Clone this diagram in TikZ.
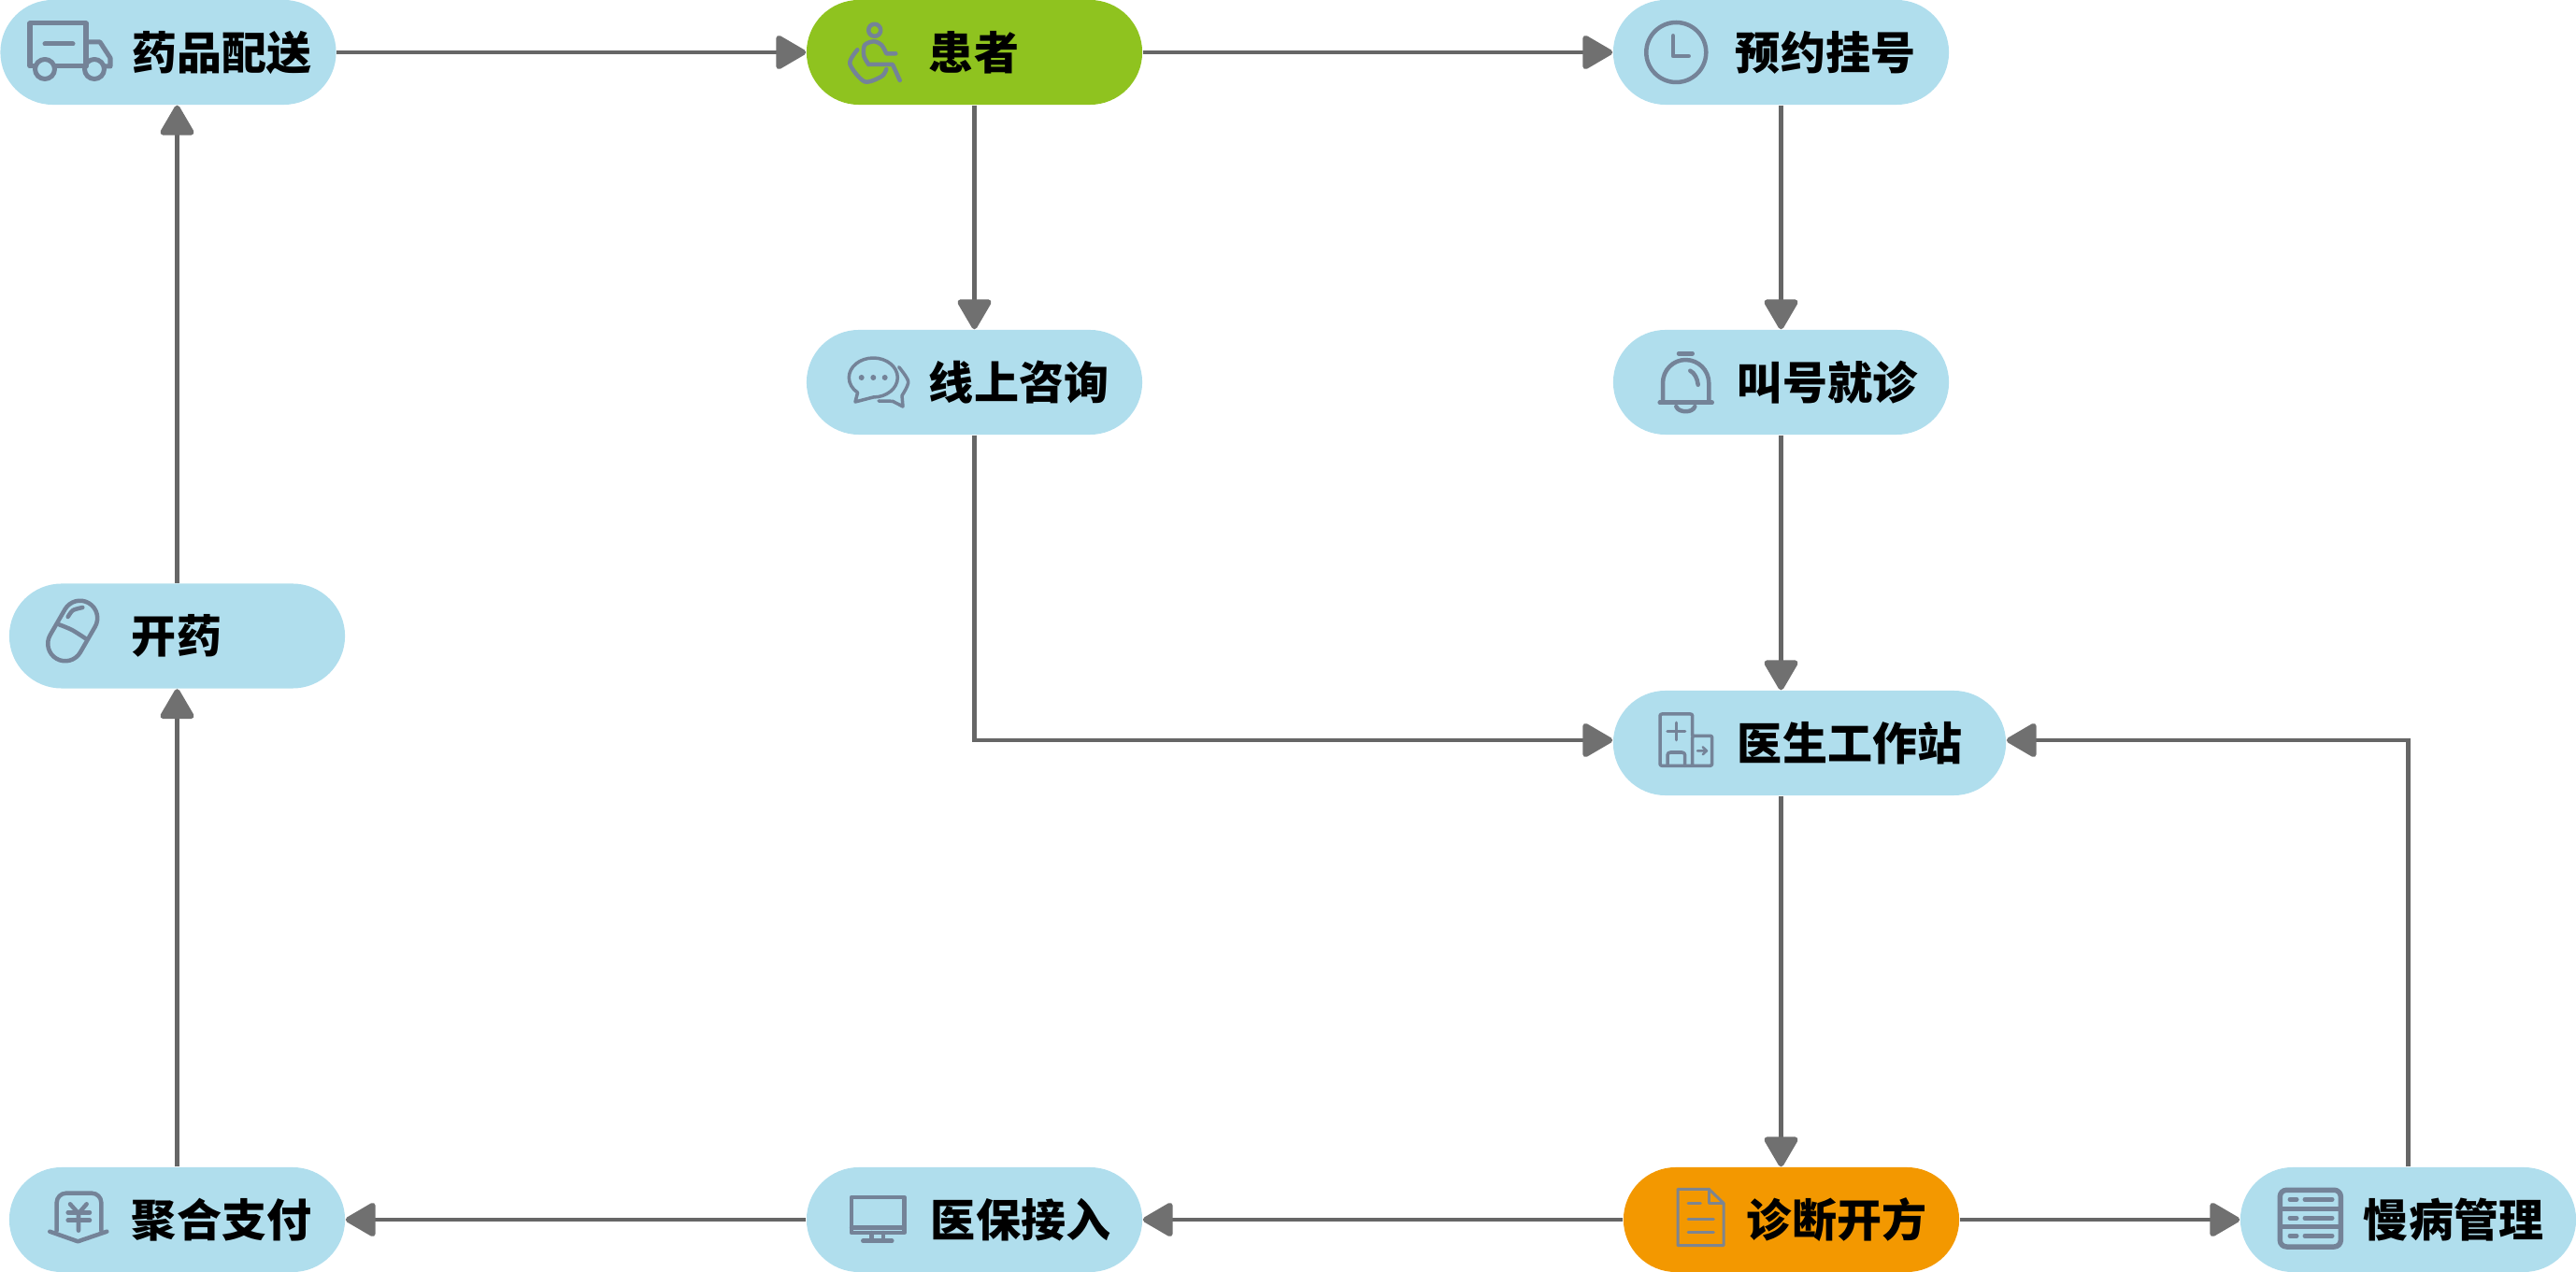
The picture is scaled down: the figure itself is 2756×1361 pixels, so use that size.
\documentclass[tikz,border=0pt]{standalone}
\usepackage{fontspec}
\usetikzlibrary{arrows.meta}
\newfontfamily\cjk{Noto Sans CJK SC}[BoldFont={Noto Sans CJK SC Black}]
\definecolor{pillblue}{HTML}{B0DEED}
\definecolor{pillgreen}{HTML}{8FC31F}
\definecolor{pillorange}{HTML}{F39800}
\definecolor{linegrey}{HTML}{666666}
\definecolor{tipgrey}{HTML}{707070}
\definecolor{iconblue}{HTML}{748398}
\definecolor{docgrey}{HTML}{7D8590}
\tikzset{
  flowpill/.style={rectangle,fill=pillblue,rounded corners=0.56cm,minimum height=1.12cm,text width=3.59cm,
    inner sep=0pt,align=left,text=black,font=\cjk\bfseries\fontsize{13.66pt}{16pt}\selectfont,
    execute at begin node={\hspace*{#1}}},
  flowline/.style={draw=linegrey,line width=0.042cm,-{Triangle[round,length=0.35cm,width=0.39cm,line width=0.06cm,color=tipgrey,fill=tipgrey]}},
  icon/.style={draw=iconblue,line width=0.045cm,line cap=round,line join=round},
}
\begin{document}
\begin{tikzpicture}[x=0.01cm,y=-0.01cm]
\useasboundingbox (0,0) rectangle (2756,1361);
\node[flowpill=1.41cm] (yaopin) at (180,56) {药品配送};
\node[flowpill=1.31cm,fill=pillgreen] (huanzhe) at (1042.5,56) {患者};
\node[flowpill=1.31cm] (yuyue) at (1905.5,56) {预约挂号};
\node[flowpill=1.31cm] (xianshang) at (1042.5,409) {线上咨询};
\node[flowpill=1.33cm] (jiaohao) at (1905.5,409) {叫号就诊};
\node[flowpill=1.31cm] (kaiyao) at (189.5,680.5) {开药};
\node[flowpill=1.33cm,text width=4.2cm] (yisheng) at (1936,795) {医生工作站};
\node[flowpill=1.31cm] (juhe) at (189.5,1305) {聚合支付};
\node[flowpill=1.33cm] (yibao) at (1042.5,1305) {医保接入};
\node[flowpill=1.32cm,fill=pillorange] (zhenduan) at (1916.5,1305) {诊断开方};
\node[flowpill=1.32cm] (manbing) at (2576.5,1305) {慢病管理};

\draw[flowline] (yaopin.east) -- (huanzhe.west);
\draw[flowline] (huanzhe.east) -- (yuyue.west);
\draw[flowline] (huanzhe.south) -- (xianshang.north);
\draw[flowline] (yuyue.south) -- (jiaohao.north);
\draw[flowline] (jiaohao.south) -- (jiaohao.south |- yisheng.north);
\draw[flowline] (xianshang.south) |- ([yshift=0.03cm]yisheng.west);
\draw[flowline] (manbing.north) |- ([yshift=0.03cm]yisheng.east);
\draw[flowline] (jiaohao.south |- yisheng.south) -- (jiaohao.south |- zhenduan.north);
\draw[flowline] (zhenduan.west) -- (yibao.east);
\draw[flowline] (zhenduan.east) -- (manbing.west);
\draw[flowline] (yibao.west) -- (juhe.east);
\draw[flowline] (juhe.north) -- (kaiyao.south);
\draw[flowline] (kaiyao.north) -- (kaiyao.north |- yaopin.south);

% truck
\draw[icon,line width=0.05cm] (37,71) -- (32,71) -- (32,25) -- (92,25) -- (92,71) (60,71) -- (89,71);
\draw[icon,line width=0.05cm] (92,45) -- (107,45) -- (118,62) -- (118,71) -- (112,71);
\draw[icon,line width=0.05cm] (48,47) -- (78,47);
\draw[icon,line width=0.05cm] (48,74) circle [radius=10.5] (101,74) circle [radius=10.5];
% wheelchair
\draw[icon] (935.7,32.3) circle [radius=6.5];
\draw[icon] plot[smooth] coordinates {(929.3,69) (924.3,60) (925,48.3) (935,44.3) (943.3,48.3) (948.3,57.3)} -- (958.3,57.3);
\draw[icon] (929.3,69) -- (955,69) -- (962.7,86);
\draw[icon] plot[smooth] coordinates {(917.3,53.3) (909.3,68.3) (925,87.3) (943.3,81.7) (948.3,74)};
% clock
\draw[icon] (1793.3,56) circle [radius=32];
\draw[icon] (1790,38.3) -- (1790,60) -- (1806.7,60);
% chat
\draw[icon,line width=0.035cm] (934.3,425) arc [start angle=90,end angle=-230,x radius=26,y radius=21] -- (915,430) -- (934.3,425);
\fill[iconblue] (921.7,404) circle [radius=3] (934.3,404) circle [radius=3] (946.7,404) circle [radius=3];
\draw[icon,line width=0.035cm] plot[smooth] coordinates {(961.7,392.7) (971.7,408.3) (965,423.3)} -- (966,435) -- (955,429.3) -- (940,429);
% bell
\draw[icon] (1796,378.3) -- (1810.7,378.3);
\draw[icon] (1779,430) -- (1779,410) .. controls (1779,396) and (1790,385) .. (1803.3,385) .. controls (1817,385) and (1828.3,396) .. (1828.3,410) -- (1828.3,430);
\draw[icon] (1775.7,430.7) -- (1831.7,430.7);
\draw[icon] (1793.3,435) .. controls (1796,442) and (1811,442) .. (1813.3,435);
\draw[icon] (1808.3,396.7) .. controls (1813,399) and (1816,405) .. (1816.7,411.7);
% capsule
\begin{scope}[shift={(77.7,675)},rotate=-30]
\draw[icon,rounded corners=0.186cm] (-18.6,-34.4) rectangle (18.6,34.4);
\end{scope}
\draw[icon] plot[smooth] coordinates {(63.3,668.3) (77,674) (91.7,683.3)};
\draw[icon] plot[smooth] coordinates {(72.7,660) (78,653) (88.3,650)};
% hospital
\draw[icon,line width=0.035cm,rounded corners=0.02cm] (1810.7,787.3) -- (1810.7,764) -- (1776,764) -- (1776,819.3) -- (1831.7,819.3) -- (1831.7,787.3) -- (1810.7,787.3) -- (1810.7,819.3);
\draw[icon,line width=0.035cm,rounded corners=0.03cm] (1784,819.3) -- (1784,805) -- (1802.7,805) -- (1802.7,819.3);
\draw[icon,line width=0.035cm] (1793.3,773.3) -- (1793.3,791.7) (1784,782.3) -- (1802.7,782.3);
\draw[icon,line width=0.025cm] (1816,803.3) -- (1826,803.3) (1821.7,799.3) -- (1826,803.3) -- (1821.7,807.3);
% yen
\draw[icon,rounded corners=0.1cm] (60.7,1316.7) -- (60.7,1276.7) -- (108.3,1276.7) -- (108.3,1316.7);
\draw[icon] (53.3,1317.7) -- (83.3,1328.3) -- (114.3,1317.7);
\draw[icon] (75,1288.3) -- (84,1298.3) -- (92.7,1288.3) (84,1298.3) -- (84,1316.7);
\draw[icon] (72.7,1297.3) -- (96,1297.3) (72.7,1305.7) -- (96,1305.7);
% monitor
\draw[icon] (911,1281) rectangle (967.3,1319);
\draw[icon] (911,1313.3) -- (967.3,1313.3);
\draw[icon] (932.7,1319) -- (932.7,1327.7) (945,1319) -- (945,1327.7);
\draw[icon] (923.3,1327.7) -- (954.3,1327.7);
% document
\draw[icon,draw=docgrey,line width=0.03cm] (1795,1272.3) -- (1828.3,1272.3) -- (1844,1287.3) -- (1844,1332.7) -- (1795,1332.7) -- cycle;
\draw[icon,draw=docgrey,line width=0.03cm] (1828.3,1272.3) -- (1828.3,1287.3) -- (1844,1287.3);
\draw[icon,draw=docgrey,line width=0.03cm] (1806,1287.3) -- (1819.3,1287.3) (1806,1304) -- (1833.3,1304) (1806,1318.3) -- (1833.3,1318.3);
% list
\draw[icon,line width=0.055cm,rounded corners=0.07cm] (2439.3,1273.3) rectangle (2504.3,1334);
\draw[icon,line width=0.05cm] (2450,1283.3) -- (2457,1283.3) (2466,1283.3) -- (2495,1283.3);
\draw[icon,line width=0.05cm] (2441,1293.3) -- (2503,1293.3);
\draw[icon,line width=0.05cm] (2450,1303.3) -- (2457,1303.3) (2466,1303.3) -- (2495,1303.3);
\draw[icon,line width=0.05cm] (2441,1312.7) -- (2503,1312.7);
\draw[icon,line width=0.05cm] (2450,1322.3) -- (2457,1322.3) (2466,1322.3) -- (2495,1322.3);
\end{tikzpicture}
\end{document}
